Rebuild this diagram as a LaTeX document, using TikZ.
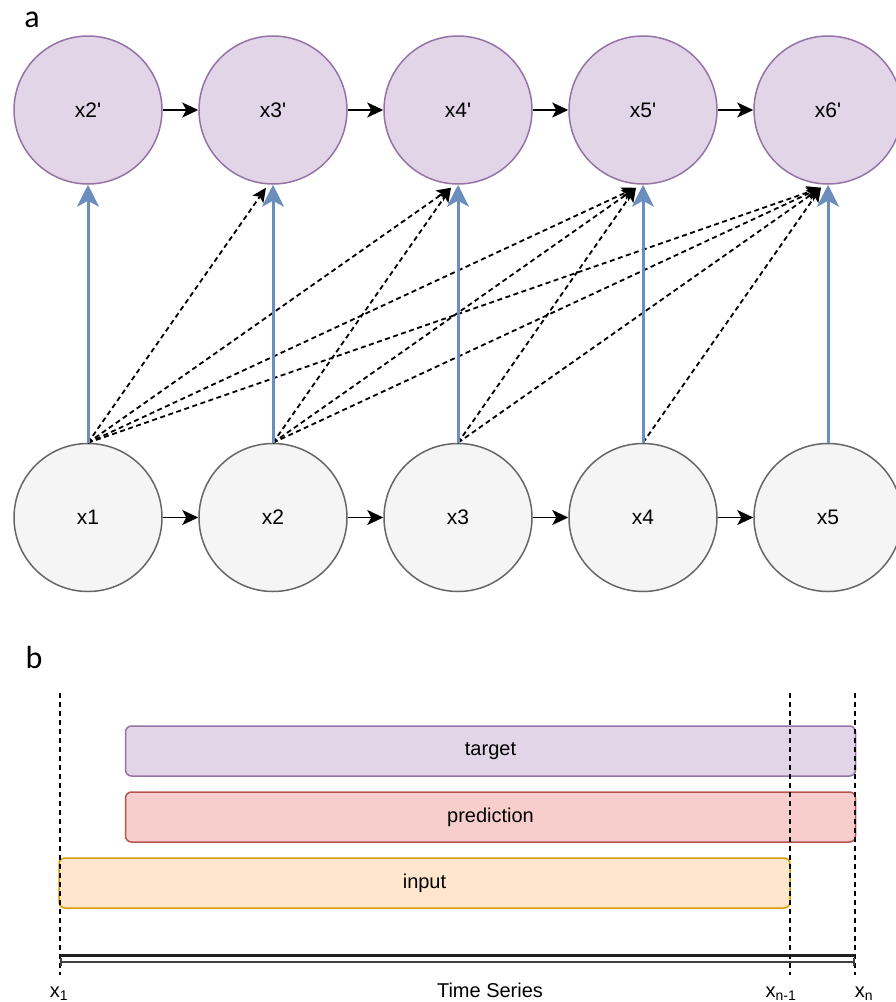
\documentclass[tikz,border=0pt]{standalone}
\usepackage{fontspec}
\setmainfont{Liberation Sans}
\newfontfamily\labfont{Carlito}
\usetikzlibrary{arrows.meta}
\definecolor{purpF}{HTML}{E1D5E7}
\definecolor{purpD}{HTML}{9673A6}
\definecolor{grayF}{HTML}{F5F5F5}
\definecolor{grayD}{HTML}{666666}
\definecolor{blueL}{HTML}{6C8EBF}
\definecolor{redF}{HTML}{F8CECC}
\definecolor{redD}{HTML}{B85450}
\definecolor{oraF}{HTML}{FFE6CC}
\definecolor{oraD}{HTML}{D79B00}
\tikzset{
  txt/.style={font=\fontsize{20}{23}\selectfont},
  ctxt/.style={font=\fontsize{21}{24}\selectfont},
  topc/.style={circle, draw=purpD, fill=purpF, line width=1.5pt, minimum size=148pt, inner sep=0pt, ctxt},
  botc/.style={circle, draw=grayD, fill=grayF, line width=1.5pt, minimum size=148pt, inner sep=0pt, ctxt},
  harr/.style={draw=black, line width=1.8pt, -{Stealth[length=16pt,width=15pt,inset=4pt]}},
  barr/.style={draw=blueL, line width=3pt, -{Stealth[length=22pt,width=22pt,inset=6pt]}},
  darr/.style={draw=black, line width=1.8pt, dash pattern=on 5pt off 3.5pt, -{Stealth[length=14pt,width=13pt,inset=3pt]}},
  bar/.style={rounded corners=6pt, line width=1.5pt, inner sep=0pt, txt},
  vdash/.style={draw=black, line width=1.6pt, dash pattern=on 5pt off 4pt},
  panel/.style={font=\labfont\fontsize{32}{36}\selectfont, inner sep=0pt}
}
\begin{document}
\begin{tikzpicture}[x=1pt,y=-1pt]
\useasboundingbox (0,0) rectangle (895,1002);
% panel labels
\node[panel] (la) at (32,20) {a};
\node[panel] (lb) at (34,657) {b};
% top circles
\node[topc] (t2) at (88,110) {x2\textquotesingle};
\node[topc] (t3) at (273,110) {x3\textquotesingle};
\node[topc] (t4) at (458,110) {x4\textquotesingle};
\node[topc] (t5) at (643,110) {x5\textquotesingle};
\node[topc] (t6) at (828,110) {x6\textquotesingle};
% bottom circles
\node[botc] (b1) at (88,517.5) {x1};
\node[botc] (b2) at (273,517.5) {x2};
\node[botc] (b3) at (458,517.5) {x3};
\node[botc] (b4) at (643,517.5) {x4};
\node[botc] (b5) at (828,517.5) {x5};
% horizontal arrows
\draw[harr] (t2) -- (t3);
\draw[harr] (t3) -- (t4);
\draw[harr] (t4) -- (t5);
\draw[harr] (t5) -- (t6);
\draw[harr] (b1) -- (b2);
\draw[harr] (b2) -- (b3);
\draw[harr] (b3) -- (b4);
\draw[harr] (b4) -- (b5);
% dashed end points
\foreach \t in {3,4,5,6}{
  \coordinate (e\t) at ([xshift=-7pt,yshift=-3pt]t\t.south);
}
% dashed connections
\foreach \s/\t in {1/3,1/4,1/5,1/6,2/4,2/5,2/6,3/5,3/6,4/6}{
  \draw[darr] (b\s.north) -- (e\t);
}
% blue arrows
\draw[barr] (b1.north) -- (t2.south);
\draw[barr] (b2.north) -- (t3.south);
\draw[barr] (b3.north) -- (t4.south);
\draw[barr] (b4.north) -- (t5.south);
\draw[barr] (b5.north) -- (t6.south);
% panel b bars
\node[bar, draw=purpD, fill=purpF, minimum width=730pt, minimum height=50pt] (target) at (490.5,751) {target};
\node[bar, draw=redD, fill=redF, minimum width=730pt, minimum height=50pt] (pred) at (490.5,817) {prediction};
\node[bar, draw=oraD, fill=oraF, minimum width=731pt, minimum height=50pt] (input) at (424.5,883) {input};
% vertical dashed lines
\coordinate (v1a) at (60,693); \coordinate (v1b) at (60,975);
\coordinate (v2a) at (790,693); \coordinate (v2b) at (790,975);
\coordinate (v3a) at (855,693); \coordinate (v3b) at (855,975);
\draw[vdash] (v1a) -- (v1b);
\draw[vdash] (v2a) -- (v2b);
\draw[vdash] (v3a) -- (v3b);
% time series axis
\coordinate (ax1) at (60,955); \coordinate (ax2) at (855,955);
\coordinate (ay1) at (60,962); \coordinate (ay2) at (855,962);
\draw[line width=3pt, draw=black!88] (ax1) -- (ax2);
\draw[line width=1.6pt, draw=black!75, {Bar[width=8pt]}-{Bar[width=8pt]}] (ay1) -- (ay2);
% axis labels
\node[txt, anchor=base, inner sep=0pt] (lx1) at (59,997) {x\textsubscript{1}};
\node[txt, anchor=base, inner sep=0pt] (lts) at (490,997) {Time Series};
\node[txt, anchor=base, inner sep=0pt] (lxn1) at (781,997) {x\textsubscript{n-1}};
\node[txt, anchor=base, inner sep=0pt] (lxn) at (864,997) {x\textsubscript{n}};
\end{tikzpicture}
\end{document}
